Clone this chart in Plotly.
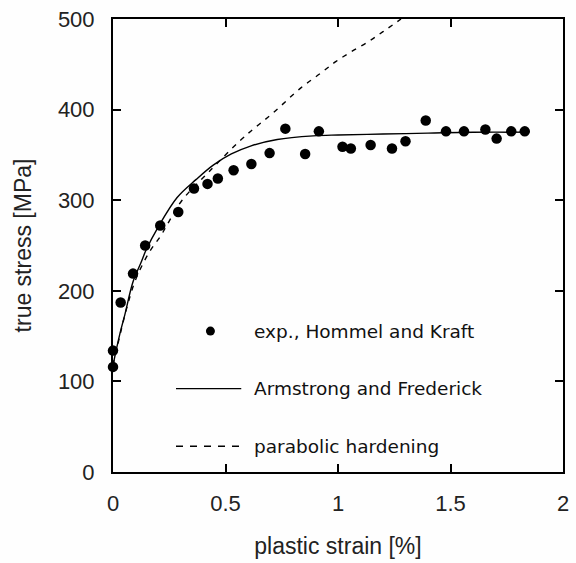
import plotly.graph_objects as go

# Experimental points (plastic strain in %, true stress in MPa)
strain_exp = [0, 0, 0.034, 0.089, 0.143, 0.21, 0.29, 0.36, 0.42, 0.466, 0.536,
              0.615, 0.696, 0.766, 0.854, 0.915, 1.02, 1.057, 1.145, 1.24, 1.30,
              1.39, 1.48, 1.56, 1.655, 1.705, 1.77, 1.83]
stress_exp = [116, 134, 187, 219, 250, 272, 287, 313, 318, 324, 333,
              340, 352, 379, 351, 376, 359, 357, 361, 357, 365,
              388, 376, 376, 378, 368, 376, 376]

# Armstrong and Frederick model curve
strain_af = [0, 0.03, 0.053, 0.089, 0.126, 0.147, 0.2, 0.285, 0.37, 0.447, 0.526,
             0.614, 0.73, 0.89, 1.0, 1.2, 1.4, 1.6, 1.85]
stress_af = [118, 152, 174, 210, 232, 245, 270, 303, 323, 339, 351,
             360, 367, 371, 372, 373, 374, 375, 375]

# Parabolic hardening curve
strain_par = [0, 0.03, 0.06, 0.1, 0.162, 0.213, 0.25, 0.307, 0.425, 0.57, 0.636,
              0.71, 0.835, 0.922, 0.99, 1.06, 1.135, 1.2, 1.28]
stress_par = [118, 150, 180, 212, 243, 261, 277, 300, 331, 367, 381,
              396, 424, 440, 453, 464, 475, 486, 500]

x_ticks = [0, 0.5, 1, 1.5, 2]
x_tick_text = ["0", "0.5", "1", "1.5", "2"]
y_ticks = [0, 100, 200, 300, 400, 500]

legend_labels = ["exp., Hommel and Kraft", "Armstrong and Frederick", "parabolic hardening"]

fig = go.Figure()

fig.add_trace(go.Scatter(x=strain_af, y=stress_af, mode="lines", line_shape="spline",
                         line=dict(color="black", width=1.4), showlegend=False))
fig.add_trace(go.Scatter(x=strain_par, y=stress_par, mode="lines", line_shape="spline",
                         line=dict(color="black", width=1.4, dash="5px,6px"),
                         showlegend=False))
fig.add_trace(go.Scatter(x=strain_exp, y=stress_exp, mode="markers",
                         marker=dict(color="black", size=10.5, symbol="circle"),
                         cliponaxis=False, showlegend=False))
# Invisible trace that attaches the top and right axes
fig.add_trace(go.Scatter(x=[None], y=[None], xaxis="x2", yaxis="y2",
                         mode="markers", showlegend=False, hoverinfo="skip"))

# Hand-drawn key inside the plot area (paper coordinates)
key_x_text = 0.309
key_rows = [0.311, 0.184, 0.057]
fig.add_shape(type="circle", xref="paper", yref="paper", xsizemode="pixel",
              ysizemode="pixel", xanchor=0.2165, yanchor=key_rows[0],
              x0=-4.5, x1=4.5, y0=-4.5, y1=4.5,
              fillcolor="black", line=dict(color="black", width=0))
fig.add_shape(type="line", xref="paper", yref="paper", x0=0.140, x1=0.285,
              y0=key_rows[1], y1=key_rows[1], line=dict(color="black", width=1.4))
fig.add_shape(type="line", xref="paper", yref="paper", x0=0.140, x1=0.294,
              y0=key_rows[2], y1=key_rows[2],
              line=dict(color="black", width=1.4, dash="7px,7px"))
for label, ry in zip(legend_labels, key_rows):
    fig.add_annotation(text=label, xref="paper", yref="paper", x=key_x_text, y=ry,
                       xanchor="left", yanchor="middle", showarrow=False,
                       font=dict(family="DejaVu Sans", size=18.5, color="#111111"))

axis_common = dict(showline=True, linecolor="black", linewidth=2,
                   ticks="inside", ticklen=8, tickwidth=2, tickcolor="black",
                   showgrid=False, zeroline=False,
                   tickfont=dict(family="Liberation Sans", size=22, color="#222222"))

fig.update_layout(
    width=576, height=563, paper_bgcolor="#fefefe", plot_bgcolor="#fefefe",
    margin=dict(l=113, r=7, t=16, b=91), showlegend=False,
    xaxis=dict(range=[0, 2], tickvals=x_ticks, ticktext=x_tick_text,
               ticklabelstandoff=11,
               title=dict(text="plastic strain [%]", standoff=22,
                          font=dict(family="Liberation Sans", size=23, color="#222222")),
               **axis_common),
    yaxis=dict(range=[0, 500], tickvals=y_ticks, ticklabelstandoff=12,
               title=dict(text="true stress [MPa]", standoff=20,
                          font=dict(family="Liberation Sans", size=23, color="#222222")),
               **axis_common),
    xaxis2=dict(range=[0, 2], tickvals=x_ticks, overlaying="x", side="top",
                anchor="y2", showticklabels=False, **axis_common),
    yaxis2=dict(range=[0, 500], tickvals=y_ticks, overlaying="y", side="right",
                anchor="x2", showticklabels=False, **axis_common),
)

fig.write_html("out.html")
